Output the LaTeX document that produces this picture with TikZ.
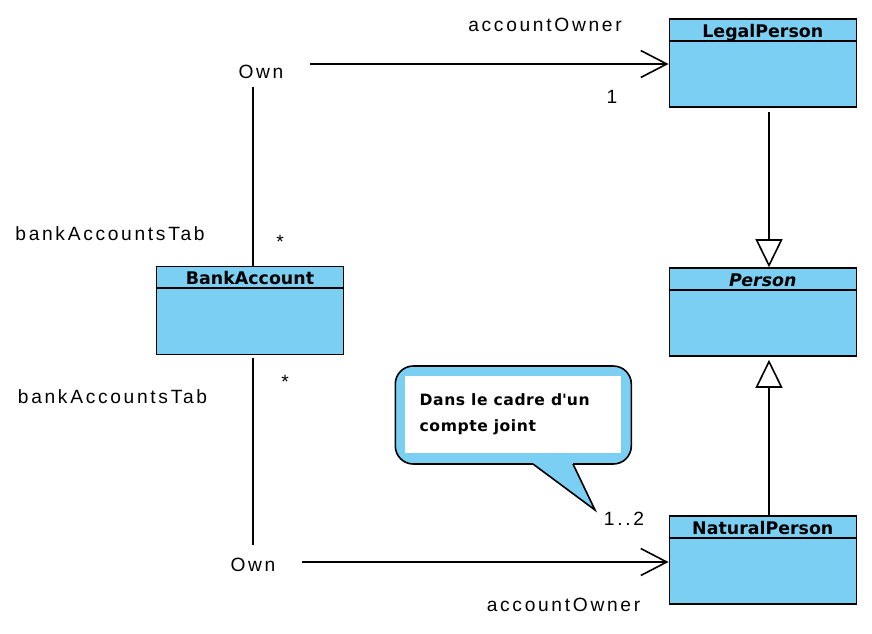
\documentclass[tikz,border=0pt]{standalone}
\usepackage{fontspec}
\usetikzlibrary{arrows.meta}
\newfontfamily\lblfont[LetterSpace=14]{Liberation Sans}
\newfontfamily\clsfont{DejaVu Sans}
\newfontfamily\notefont[LetterSpace=3.5]{DejaVu Sans}
\definecolor{umlblue}{RGB}{122,207,243}

\tikzstyle{classbox} = [draw, fill=umlblue, line width=1.6pt, inner sep=0,
   minimum width=187pt, minimum height=88pt]
\tikzstyle{classtitle} = [font=\clsfont\bfseries\fontsize{17.4}{20}\selectfont, anchor=base, inner sep=0]
\tikzstyle{lbl} = [font=\lblfont\fontsize{19.2}{23}\selectfont, anchor=base, inner sep=0]
\tikzstyle{assoc} = [line width=1.6pt, -{Straight Barb[length=26pt,width=27pt,line width=1.6pt]}]
\tikzstyle{gen} = [line width=1.6pt, -{Triangle[open,length=28pt,width=27pt,fill=white,line width=1.6pt]}]
\tikzstyle{notetext} = [font=\notefont\bfseries\fontsize{15.6}{26}\selectfont, align=left,
   anchor=north west, inner sep=0]

% class box with title and divider
\newcommand{\umlclass}[4]{%
  \node[classbox] (#1) at (#2,#3) {};
  \node[classtitle] at ([yshift=-19pt]#1.north) {#4};
  \draw[line width=1.6pt] ([yshift=-22.5pt]#1.north west) -- ([yshift=-22.5pt]#1.north east);
}

\begin{document}
\begin{tikzpicture}[x=1pt, y=-1pt]
  \useasboundingbox (0,0) rectangle (872,633);

  \umlclass{node_Legal}{762.8}{63}{LegalPerson}
  \umlclass{node_Person}{762.8}{312}{\itshape Person}
  \umlclass{node_Natural}{762.8}{560}{NaturalPerson}
  \umlclass{node_Bank}{250}{310.5}{BankAccount}

  % association labels
  \node[lbl] (own_top) at (261,78.3) {Own};
  \node[lbl] (own_bot) at (253,571.7) {Own};
  \node[lbl] at (545,31.7) {accountOwner};
  \node[lbl] at (612,103) {1};
  \node[lbl] at (110,240) {bankAccountsTab};
  \node[lbl] at (280,248.6) {*};
  \node[lbl] at (112.5,403) {bankAccountsTab};
  \node[lbl] at (285,388.6) {*};
  \node[lbl] at (624,525.7) {1..2};
  \node[lbl] at (563.5,611) {accountOwner};

  \coordinate (top_start) at (310,64);
  \coordinate (bot_start) at (302,562);

  % associations
  \draw[line width=1.6pt] ([xshift=3pt]node_Bank.north) -- ([xshift=3pt]node_Bank.north |- 0,87);
  \draw[assoc] (top_start) -- (top_start -| node_Legal.west);
  \draw[line width=1.6pt, shorten <=2.5pt] ([xshift=3pt]node_Bank.south) -- ([xshift=3pt]node_Bank.south |- 0,545);
  \draw[assoc] (bot_start) -- (bot_start -| node_Natural.west);

  % generalizations
  \draw[gen, shorten <=4pt] ([xshift=6.2pt]node_Legal.south) -- ([xshift=6.2pt]node_Person.north);
  \draw[gen, shorten >=3pt] ([xshift=6.2pt]node_Natural.north) -- ([xshift=6.2pt]node_Person.south);

  % note
  \node[draw, fill=umlblue, line width=1.6pt, rounded corners=18pt,
     minimum width=236pt, minimum height=98pt] (note_box) at (513.3,415) {};
  \fill[umlblue] (533,460) -- (533,464) -- (595,510) -- (573,464) -- (573,460) -- cycle;
  \draw[line width=1.6pt] (533,464) -- (595,510) -- (573,464);
  \node[fill=white, inner sep=0, minimum width=216pt, minimum height=77pt] (note_text) at (513.3,414.5) {};
  \node[notetext] at (419.5,393) {Dans le cadre d\textquotesingle un\\compte joint};
\end{tikzpicture}
\end{document}
